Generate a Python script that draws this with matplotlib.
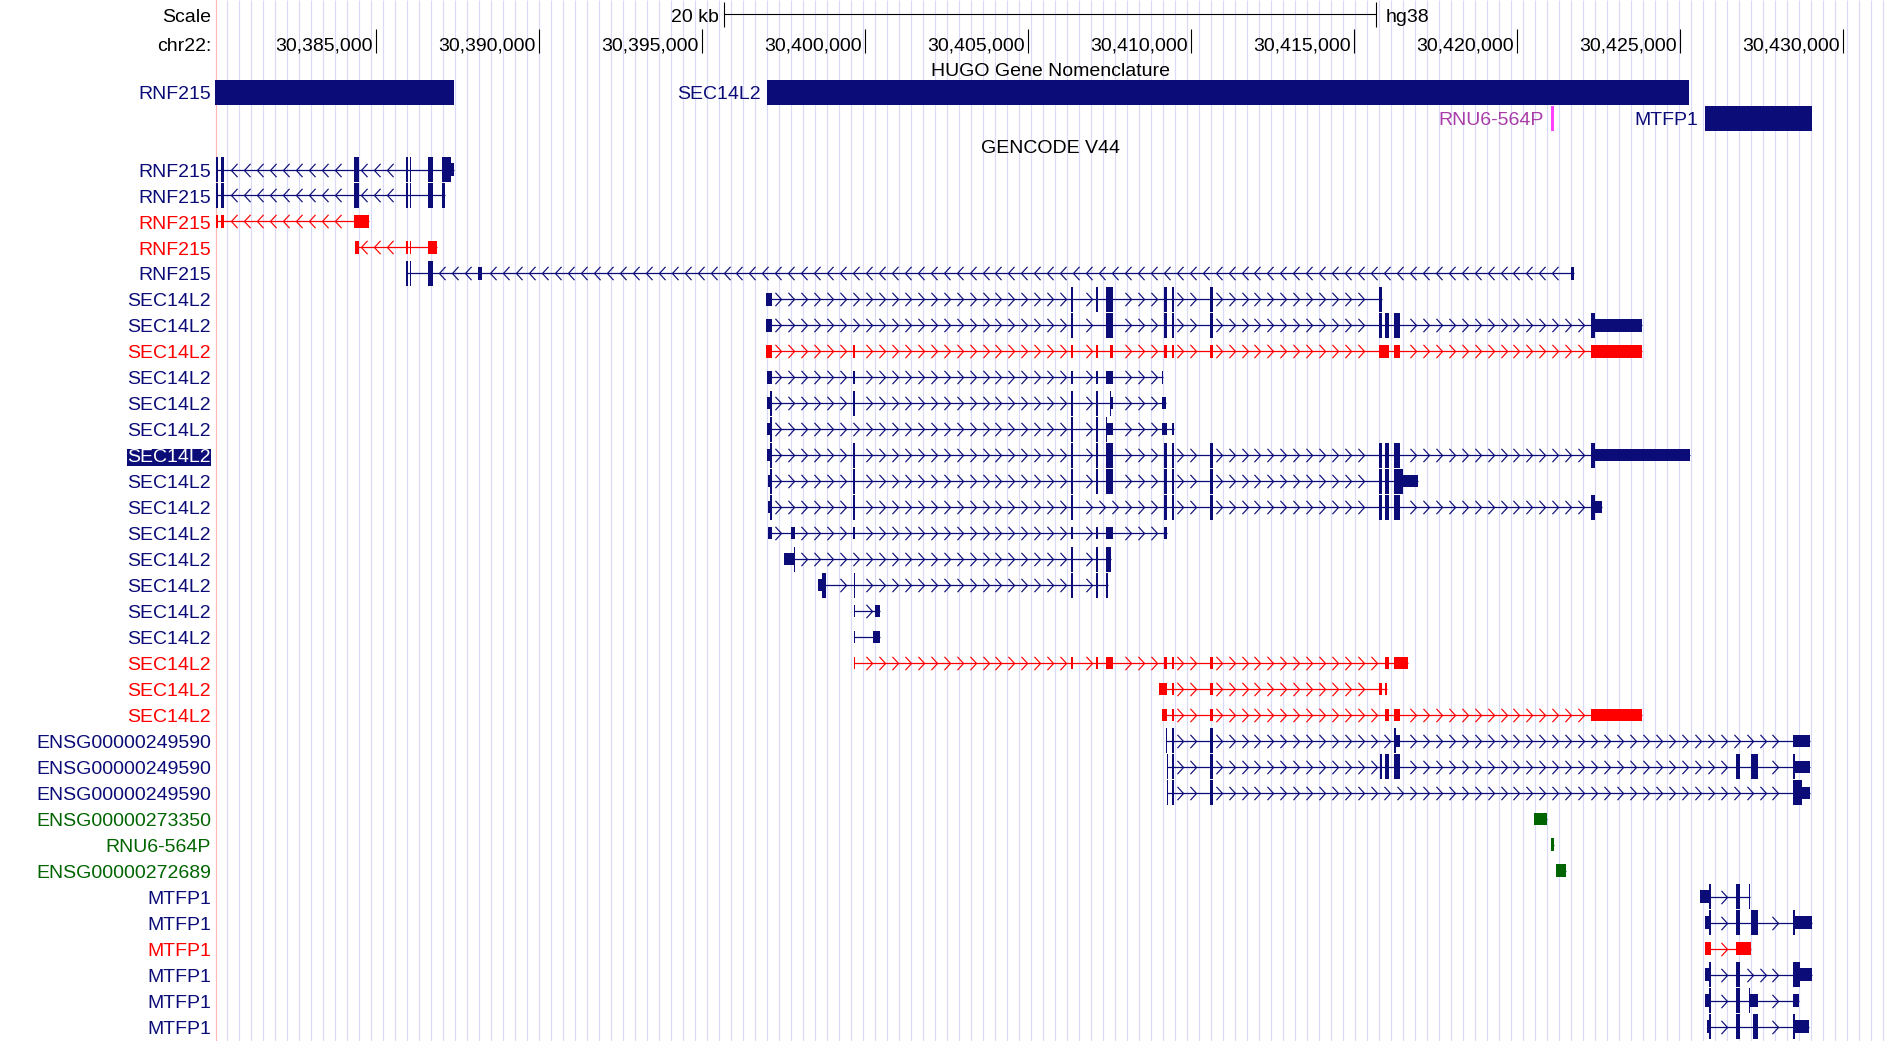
import matplotlib
matplotlib.use('Agg')
import matplotlib.pyplot as plt
from matplotlib.path import Path
import numpy as np

plt.rcParams['font.family'] = ['Liberation Sans', 'DejaVu Sans']

# ---------------- data ----------------
CHROM = "chr22:"
XMIN, XMAX = 30380061, 30431289
tick_positions = [30385000, 30390000, 30395000, 30400000, 30405000,
                  30410000, 30415000, 30420000, 30425000, 30430000]
tick_labels = ["30,385,000", "30,390,000", "30,395,000", "30,400,000", "30,405,000",
               "30,410,000", "30,415,000", "30,420,000", "30,425,000", "30,430,000"]
SCALE_BP = 20000
SCALE_LABEL = "20 kb"
ASSEMBLY = "hg38"

hugo_names = ["RNF215", "SEC14L2", "RNU6-564P", "MTFP1"]
hugo_starts = [30377000, 30397003, 30421043, 30425767]
hugo_ends = [30387392, 30425285, 30421135, 30429036]
hugo_rows = [0, 0, 1, 1]
hugo_kind = ["coding", "coding", "snrna", "coding"]

tx_names = ["RNF215"] * 5 + ["SEC14L2"] * 17 + ["ENSG00000249590"] * 3 + \
           ["ENSG00000273350", "RNU6-564P", "ENSG00000272689"] + ["MTFP1"] * 6
tx_kind = ["coding", "coding", "noncoding", "noncoding", "coding",
           "coding", "coding", "noncoding", "coding", "coding", "coding", "coding",
           "coding", "coding", "coding", "coding", "coding", "coding", "coding",
           "noncoding", "noncoding", "noncoding",
           "coding", "coding", "coding",
           "pseudo", "pseudo", "pseudo",
           "coding", "coding", "noncoding", "coding", "coding", "coding"]
tx_strand = ["-"] * 5 + ["+"] * 29
tx_highlight = 11

tx_exons = [
    [(30380095, 30380165), (30380245, 30380340), (30384319, 30384472), (30385905, 30385975),
     (30386034, 30386080), (30386610, 30386739), (30387009, 30387383)],
    [(30380095, 30380165), (30380245, 30380340), (30384319, 30384472), (30385905, 30385975),
     (30386034, 30386080), (30386610, 30386739), (30387009, 30387116)],
    [(30380095, 30380165), (30380245, 30380340), (30384319, 30384800)],
    [(30384356, 30384472), (30385905, 30385975), (30386034, 30386080), (30386610, 30386868)],
    [(30385905, 30385975), (30386034, 30386080), (30386610, 30386739), (30388135, 30388251),
     (30421656, 30421748)],
    [(30396951, 30397138), (30406319, 30406371), (30407086, 30407147), (30407393, 30407607),
     (30409172, 30409264), (30409417, 30409478), (30410583, 30410675), (30415767, 30415859)],
    [(30396963, 30397138), (30406319, 30406371), (30407393, 30407607), (30409172, 30409264),
     (30409417, 30409478), (30410583, 30410675), (30415767, 30415859), (30415951, 30416074),
     (30416227, 30416411), (30422270, 30423834)],
    [(30396963, 30397138), (30399632, 30399693), (30406319, 30406371), (30407086, 30407147),
     (30407515, 30407607), (30409172, 30409264), (30409417, 30409478), (30410583, 30410675),
     (30415767, 30416074), (30416227, 30416411), (30422270, 30423834)],
    [(30396994, 30397138), (30399632, 30399693), (30406319, 30406371), (30407086, 30407147),
     (30407393, 30407607), (30409110, 30409141)],
    [(30396994, 30397138), (30399632, 30399693), (30406319, 30406371), (30407086, 30407147),
     (30407515, 30407607), (30409110, 30409233)],
    [(30396994, 30397138), (30406319, 30406371), (30407086, 30407147), (30407393, 30407607),
     (30409110, 30409264), (30409417, 30409478)],
    [(30396994, 30397138), (30399632, 30399693), (30406319, 30406371), (30407086, 30407147),
     (30407393, 30407607), (30409172, 30409264), (30409417, 30409478), (30410583, 30410675),
     (30415767, 30415859), (30415951, 30416074), (30416227, 30416411), (30422270, 30425307)],
    [(30397024, 30397138), (30399632, 30399693), (30406319, 30406371), (30407086, 30407147),
     (30407393, 30407607), (30409172, 30409264), (30409417, 30409478), (30410583, 30410675),
     (30415767, 30415859), (30415951, 30416074), (30416227, 30416963)],
    [(30397024, 30397138), (30399632, 30399693), (30406319, 30406371), (30409172, 30409264),
     (30409417, 30409478), (30410583, 30410675), (30415767, 30415859), (30415951, 30416074),
     (30416227, 30416411), (30422270, 30422607)],
    [(30397024, 30397138), (30397730, 30397843), (30399632, 30399693), (30406319, 30406371),
     (30407086, 30407147), (30407393, 30407607), (30409172, 30409264)],
    [(30397515, 30397843), (30406319, 30406371), (30407086, 30407147), (30407393, 30407537)],
    [(30398558, 30398794), (30399653, 30399693), (30406319, 30406371), (30407086, 30407147),
     (30407393, 30407454)],
    [(30399662, 30399693), (30400307, 30400460)],
    [(30399662, 30399693), (30400245, 30400460)],
    [(30399662, 30399693), (30406319, 30406371), (30407086, 30407147), (30407393, 30407607),
     (30409172, 30409264), (30409417, 30409478), (30410583, 30410675), (30415951, 30416074),
     (30416227, 30416656)],
    [(30409018, 30409264), (30409417, 30409478), (30410583, 30410675), (30415767, 30415859),
     (30415951, 30416012)],
    [(30409110, 30409264), (30409417, 30409478), (30410583, 30410675), (30415951, 30416074),
     (30416227, 30416411), (30422270, 30423834)],
    [(30409233, 30409264), (30409417, 30409478), (30410583, 30410675), (30416227, 30416411),
     (30428466, 30428988)],
    [(30409264, 30409294), (30409417, 30409478), (30410583, 30410675), (30415797, 30415859),
     (30415951, 30416074), (30416227, 30416411), (30426718, 30426840), (30427178, 30427393),
     (30428466, 30428988)],
    [(30409264, 30409294), (30409417, 30409478), (30410583, 30410675), (30428466, 30428988)],
    [(30420521, 30420920)],
    [(30421043, 30421135)],
    [(30421196, 30421503)],
    [(30425613, 30425942), (30426718, 30426840), (30427117, 30427147)],
    [(30425767, 30425942), (30426718, 30426840), (30427178, 30427393), (30428466, 30429049)],
    [(30425767, 30425951), (30426718, 30427178)],
    [(30425767, 30425942), (30426718, 30426840), (30428466, 30429049)],
    [(30425767, 30425942), (30426718, 30426840), (30427117, 30427393), (30428466, 30428650)],
    [(30425828, 30425942), (30426718, 30426840), (30427240, 30427393), (30428466, 30428957)],
]

tx_thick = [
    (30380095, 30387300), (30380095, 30387116), None, None, (30385905, 30386739),
    (30406319, 30415859), (30406319, 30422393), None, None, (30397086, 30407561),
    (30397086, 30407432), (30397086, 30422393), (30397086, 30416503), (30397086, 30422393),
    None, (30397813, 30407537), (30398681, 30407454), None, None,
    None, None, None,
    (30409233, 30416288), (30409264, 30428528), (30409264, 30428742),
    None, None, None,
    (30425890, 30427147), (30425890, 30428528), None, (30425890, 30428681),
    (30425890, 30427147), (30425890, 30428528),
]

# ---------------- style ----------------
W, H, DPI = 1885, 1041, 100
LEFT_PX = 215
NAVY = '#0C0C78'
RED = '#FF0000'
GREEN = '#006400'
MAGENTA_BAR = '#FF40FF'
MAGENTA_TXT = '#A83CA8'
kind_color = {"coding": NAVY, "noncoding": RED, "pseudo": GREEN, "snrna": MAGENTA_BAR}
GRID_C = '#D9D9F8'
FS = 14
CAP_HALF = 7.1   # half cap height in pixels, for vertical centring on baseline

ROW0_Y, ROW_H = 169.5, 25.97
HUGO_Y0, HUGO_H = 92.3, 26.0
THICK_H, THIN_H = 25.0, 12.5

fig = plt.figure(figsize=(W / DPI, H / DPI), dpi=DPI)
ax = fig.add_axes([LEFT_PX / W, 0, 1 - LEFT_PX / W, 1])
ax.set_xlim(XMIN, XMAX)
ax.set_ylim(H, 0)
ax.axis('off')

bpp = (XMAX - XMIN) / (W - LEFT_PX)


def label(txt, x, y, dx, ha, color='black', **kw):
    ax.annotate(txt, (x, y + CAP_HALF), xytext=(dx, 0), textcoords='offset pixels',
                ha=ha, va='baseline', fontsize=FS, color=color, **kw)


# guidelines
gx = XMIN + np.arange(1, int((W - LEFT_PX) / 12) + 1) * 12 * bpp
ax.vlines(gx, 0, H, color=GRID_C, lw=0.8, zorder=0)
ax.axvline(XMIN + 0.5 * bpp, color='#FFB8B8', lw=0.9, zorder=0.5)

# scale bar
center = (XMIN + XMAX) / 2
sb0, sb1 = center - SCALE_BP / 2, center + SCALE_BP / 2
ax.hlines(14.3, sb0, sb1, color='black', lw=0.8)
ax.vlines([sb0, sb1], 1.7, 27.3, color='black', lw=0.8)
label(SCALE_LABEL, sb0, 15.3, -5, 'right')
label(ASSEMBLY, sb1, 15.3, 10, 'left')
label("Scale", XMIN, 15.3, -4, 'right')

# ruler
ax.vlines(tick_positions, 29.3, 53.3, color='black', lw=0.8)
for p, lab in zip(tick_positions, tick_labels):
    label(lab, p, 43.5, -3, 'right')
label(CHROM, XMIN, 43.5, -4, 'right')

# track titles
label("HUGO Gene Nomenclature", center, 69, 0, 'center')
label("GENCODE V44", center, 145.5, 0, 'center')

# HUGO track
for name, s, e, r, k in zip(hugo_names, hugo_starts, hugo_ends, hugo_rows, hugo_kind):
    y = HUGO_Y0 + r * HUGO_H
    c = kind_color[k]
    w = max(e - s, 3 * bpp)
    ax.broken_barh([(s, w)], (y - THICK_H / 2, THICK_H), facecolors=c, edgecolor='none')
    tc = MAGENTA_TXT if k == "snrna" else c
    if s <= XMIN:
        label(name, XMIN, y, -4, 'right', tc)
    else:
        label(name, s, y, -7, 'right', tc)

# chevron markers
RIGHT_CHEV = Path([(-0.23, 0.5), (0.23, 0.0), (-0.23, -0.5)],
                  [Path.MOVETO, Path.LINETO, Path.LINETO])
LEFT_CHEV = Path([(0.23, 0.5), (-0.23, 0.0), (0.23, -0.5)],
                 [Path.MOVETO, Path.LINETO, Path.LINETO])
CHEV_STEP = 12.95 * bpp
CHEV_MARGIN = 5 * bpp
MINW = 1.3 * bpp


def block(s, e, y, h, c):
    w = max(e - s, MINW)
    ax.broken_barh([(s, w)], (y - h / 2, h), facecolors=c, edgecolor='none', zorder=3)


for i, (name, kind, strand, exons, thick) in enumerate(
        zip(tx_names, tx_kind, tx_strand, tx_exons, tx_thick)):
    y = ROW0_Y + i * ROW_H
    c = kind_color[kind]
    exons = sorted(exons)
    t0, t1 = exons[0][0], exons[-1][1]
    ax.hlines(y, t0, t1, color=c, lw=0.9, zorder=2)
    for s, e in exons:
        if thick is None:
            block(s, e, y, THIN_H, c)
        else:
            ts, te = thick
            if s < ts:
                block(s, min(e, ts), y, THIN_H, c)
            if e > te:
                block(max(s, te), e, y, THIN_H, c)
            if e > ts and s < te:
                block(max(s, ts), min(e, te), y, THICK_H, c)
    # chevrons along introns
    xs = []
    for (s0, e0), (s1, e1) in zip(exons[:-1], exons[1:]):
        lo, hi = e0 + CHEV_MARGIN, s1 - CHEV_MARGIN
        k0 = int(np.ceil((lo - XMIN) / CHEV_STEP - 0.5))
        k1 = int(np.floor((hi - XMIN) / CHEV_STEP - 0.5))
        for k in range(k0, k1 + 1):
            xs.append(XMIN + (k + 0.5) * CHEV_STEP)
    if xs:
        ax.plot(xs, [y] * len(xs), linestyle='none',
                marker=RIGHT_CHEV if strand == '+' else LEFT_CHEV,
                markersize=9.6, markerfacecolor='none', markeredgecolor=c,
                markeredgewidth=0.85, zorder=2.5)
    # label
    if i == tx_highlight:
        label(name, XMIN, y, -4, 'right', 'white',
              bbox=dict(boxstyle='square,pad=0.0', fc=NAVY, ec='none'))
    else:
        label(name, XMIN, y, -4, 'right', c)

fig.savefig('out.png', dpi=DPI)
